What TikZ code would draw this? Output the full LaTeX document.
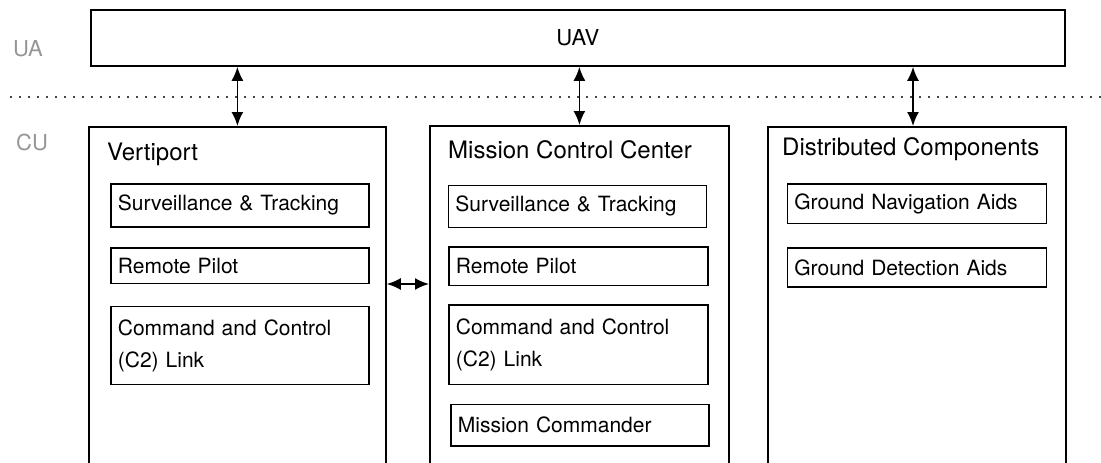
\documentclass[tikz,border=0pt]{standalone}
\usepackage{fontspec}
\setmainfont{TeX Gyre Heros}
\usetikzlibrary{arrows.meta}
\definecolor{layergray}{RGB}{150,150,150}
\definecolor{dotgray}{RGB}{70,70,70}
\tikzset{
  frame/.style={draw=black, line width=1.8pt, fill=none, inner sep=0pt, anchor=north west},
  itembox/.style={draw=black, line width=1.8pt, anchor=north west, inner xsep=7pt, inner ysep=0pt,
    align=left, font={\fontsize{21}{32}\selectfont}},
  title/.style={anchor=base west, inner sep=0pt, font={\fontsize{24}{28}\selectfont}},
  layer/.style={text=layergray, inner sep=0pt, font={\fontsize{22}{26}\selectfont}},
  link/.style={line width=1.8pt, {Latex[length=14pt,width=12pt]}-{Latex[length=14pt,width=12pt]}},
  divider/.style={dotgray, line width=2.2pt, dash pattern=on 2.2pt off 6.8pt}
}
\begin{document}
\begin{tikzpicture}[x=1pt, y=-1pt]
\useasboundingbox (0,0) rectangle (1101,463);
\clip (0,0) rectangle (1101,463);

% layer labels and divider
\node[layer] (ua) at (28,49) {UA};
\node[layer] (cu) at (32,142) {CU};
\coordinate (divL) at (10,97);
\coordinate (divR) at (1101,97);
\draw[divider] (divL) -- (divR);

% aircraft
\node[frame, minimum width=974pt, minimum height=56pt, font={\fontsize{22}{26}\selectfont}] (uav) at (90,9) {UAV};

% ground containers (continue below the lower edge)
\node[frame, minimum width=297pt, minimum height=360pt] (vp) at (88,126) {};
\node[frame, minimum width=299pt, minimum height=360pt] (mcc) at (429,125) {};
\node[frame, minimum width=298pt, minimum height=360pt] (dc) at (767,126) {};

\node[title] (vpT) at (107,160) {Vertiport};
\node[title] (mccT) at (448,158) {Mission Control Center};
\node[title] (dcT) at (782,155) {Distributed Components};

% Vertiport items
\node[itembox, text width=244pt, minimum height=43pt] (vst) at (110,183) {Surveillance \& Tracking};
\node[itembox, text width=244pt, minimum height=35.5pt] (vrp) at (110,247) {Remote Pilot};
\node[itembox, text width=244pt, minimum height=78pt] (vc2) at (110,305.5) {\raisebox{5pt}{\parbox[c]{244pt}{Command and Control\\(C2) Link}}};

% Mission Control Center items
\node[itembox, text width=244pt, minimum height=42pt] (mst) at (447.5,184.5) {Surveillance \& Tracking};
\node[itembox, text width=245pt, minimum height=38.5pt] (mrp) at (448,246) {Remote Pilot};
\node[itembox, text width=245pt, minimum height=79.5pt] (mc2) at (448,304) {\raisebox{5pt}{\parbox[c]{245pt}{Command and Control\\(C2) Link}}};
\node[itembox, text width=244pt, minimum height=41.5pt] (mmc) at (450,403.5) {Mission Commander};

% Distributed items
\node[itembox, text width=245pt, minimum height=39.5pt] (gna) at (786.5,183) {Ground Navigation Aids};
\node[itembox, text width=245pt, minimum height=39pt] (gda) at (786.5,247) {Ground Detection Aids};

% links
\draw[link] (uav.south -| vp.north) -- (vp.north);
\draw[link] (uav.south -| mcc.north) -- (mcc.north);
\coordinate (dcx) at (913,126);
\draw[link] (uav.south -| dcx) -- (dcx);
\coordinate (hy) at (0,284);
\draw[link] (vp.east |- hy) -- (mcc.west |- hy);
\end{tikzpicture}
\end{document}
